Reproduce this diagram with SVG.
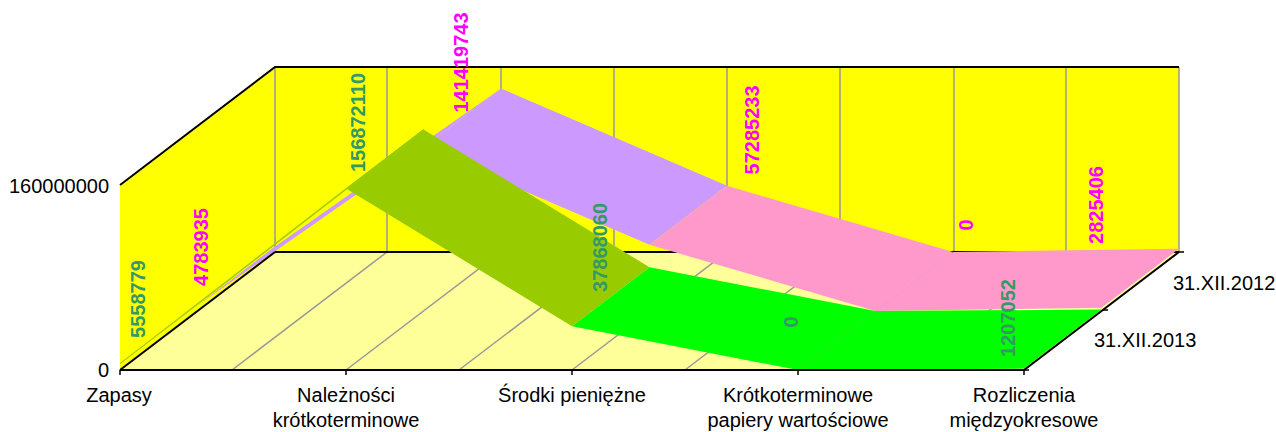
<svg xmlns="http://www.w3.org/2000/svg" width="1276" height="432" viewBox="0 0 1276 432">
<style>
.wall{fill:#FFFF00}
.floor{fill:#FFFF99}
.grid{stroke:#999999;stroke-width:1.5;fill:none}
.ax{stroke:#000;stroke-width:2;fill:none}
.lbl{font-family:"Liberation Sans",Arial,sans-serif;font-size:20px;fill:#000}
.vg{font-family:"Liberation Sans",Arial,sans-serif;font-size:20px;font-weight:bold;fill:#339966}
.vp{font-family:"Liberation Sans",Arial,sans-serif;font-size:20px;font-weight:bold;fill:#FF00FF}
</style>
<rect width="1276" height="432" fill="#fff"/>
<g id="walls">
<polygon class="wall" points="120,185 275,67 275,252 120,370"/>
<rect class="wall" x="275" y="67" width="904" height="185"/>
<polygon class="floor" points="120,370 1024,370 1179,252 275,252"/>
<g class="grid">
<path d="M275,67V252M387,67V252M501,67V252M614,67V252M727,67V252M840,67V252M954,67V252M1066,67V252M1179,67V252"/>
<path d="M232,370L387,252M346,370L501,252M459,370L614,252M572,370L727,252M685,370L840,252M798,370L954,252M911,370L1066,252"/>
</g>
<path class="ax" d="M275,252H1179"/>
</g>
<g id="series-2012">
<polygon fill="#CC99FF" points="197.5,305.5 423.5,147.5 501,88.5 275,246.5"/>
<polygon fill="#CC99FF" points="423.5,147.5 649.5,244.8 727,185.8 501,88.5"/>
<polygon fill="#FF99CC" points="649.5,244.8 875.5,311 953,252 727,185.8"/>
<polygon fill="#FF99CC" points="875.5,311 1101.5,307.7 1179,248.7 953,252"/>
</g>
<g id="series-2013">
<polygon fill="#99CC00" stroke="#99CC00" stroke-width="0.8" points="120,363.6 346,188.6 423.5,129.6 197.5,304.6"/>
<polygon fill="#99CC00" points="346,188.6 572,326.2 649.5,267.2 423.5,129.6"/>
<polygon fill="#00FF00" points="572,326.2 798,370 875.5,311 649.5,267.2"/>
<polygon fill="#00FF00" points="798,370 1024,368.6 1101.5,309.6 875.5,311"/>
</g>
<g id="axes">
<path class="ax" d="M120,185L275,67H1179"/>
<path class="ax" d="M120,370L275,252"/>
<path class="ax" d="M120,370H1024L1179,252"/>
<path stroke="#000" stroke-width="1.5" d="M120,370v5M346,370v5M572,370v5M798,370v5M1024,370v5M1024,370h5M1103,310h5M1179,252h5"/>
</g>
<g id="value-labels">
<text class="vg" transform="translate(145,299) rotate(-90)" text-anchor="middle">5558779</text>
<text class="vp" transform="translate(208,247) rotate(-90)" text-anchor="middle">4783935</text>
<text class="vg" transform="translate(365,122.5) rotate(-90)" text-anchor="middle">156872110</text>
<text class="vp" transform="translate(468,62.5) rotate(-90)" text-anchor="middle">141419743</text>
<text class="vp" transform="translate(759,130) rotate(-90)" text-anchor="middle">57285233</text>
<text class="vg" transform="translate(607,247.5) rotate(-90)" text-anchor="middle">37868060</text>
<text class="vg" transform="translate(798,322) rotate(-90)" text-anchor="middle">0</text>
<text class="vp" transform="translate(973,225) rotate(-90)" text-anchor="middle">0</text>
<text class="vp" transform="translate(1103,205) rotate(-90)" text-anchor="middle">2825406</text>
<text class="vg" transform="translate(1015,318) rotate(-90)" text-anchor="middle">1207052</text>
</g>
<g id="axis-labels">
<text class="lbl" x="109" y="193" text-anchor="end">160000000</text>
<text class="lbl" x="109" y="377" text-anchor="end">0</text>
<text class="lbl" x="119" y="402" text-anchor="middle">Zapasy</text>
<text class="lbl" x="346" y="402" text-anchor="middle">Należności</text>
<text class="lbl" x="346" y="427" text-anchor="middle">krótkoterminowe</text>
<text class="lbl" x="572" y="402" text-anchor="middle">Środki pieniężne</text>
<text class="lbl" x="798" y="402" text-anchor="middle">Krótkoterminowe</text>
<text class="lbl" x="798" y="427" text-anchor="middle">papiery wartościowe</text>
<text class="lbl" x="1024" y="402" text-anchor="middle">Rozliczenia</text>
<text class="lbl" x="1024" y="427" text-anchor="middle">międzyokresowe</text>
<text class="lbl" x="1173" y="290">31.XII.2012</text>
<text class="lbl" x="1094" y="347">31.XII.2013</text>
</g>
</svg>
